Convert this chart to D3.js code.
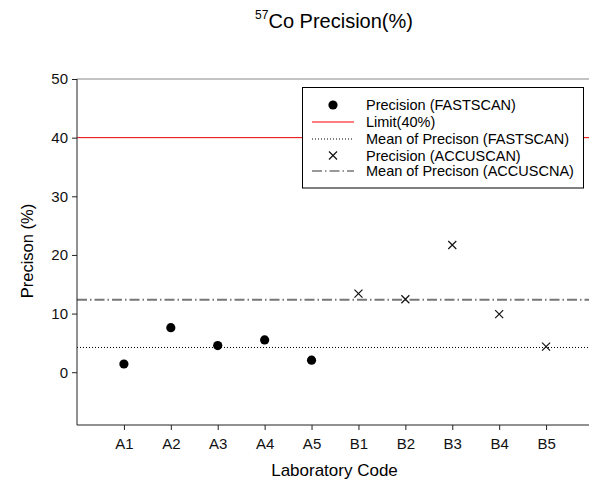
<!DOCTYPE html>
<html><head><meta charset="utf-8">
<script src="https://cdn.jsdelivr.net/npm/d3@7"></script>
<style>body{margin:0;background:#fff}svg{display:block}text{font-family:"Liberation Sans",Arial,sans-serif}</style>
</head><body>
<script>
const categories = ["A1","A2","A3","A4","A5","B1","B2","B3","B4","B5"];
const fastscan = [1.4, 7.6, 4.55, 5.5, 2.05];
const fastCats = ["A1","A2","A3","A4","A5"];
const accuscan = [13.4, 12.45, 21.7, 9.9, 4.37];
const accuCats = ["B1","B2","B3","B4","B5"];
const limit = 40;
const yTicks = [0,10,20,30,40,50];
const legendLabels = ["Precision (FASTSCAN)","Limit(40%)","Mean of Precison (FASTSCAN)","Precision (ACCUSCAN)","Mean of Precison (ACCUSCNA)"];

const W = 589, H = 486;
const svg = d3.select("body").append("svg").attr("width", W).attr("height", H);
const x = d3.scaleLinear().domain([0, 11]).range([77, 593]);
const y = d3.scaleLinear().domain([-9, 50]).range([425, 79]);
const xi = c => x(categories.indexOf(c) + 1);
const meanF = d3.mean(fastscan), meanA = d3.mean(accuscan);

// top frame line
svg.append("line").attr("x1", 77).attr("x2", W).attr("y1", y(50)).attr("y2", y(50)).attr("stroke", "#888").attr("stroke-width", 1);

// limit line
svg.append("line").attr("x1", 77).attr("x2", W).attr("y1", y(limit)).attr("y2", y(limit)).attr("stroke", "#e00").attr("stroke-width", 1);
// means
svg.append("line").attr("x1", 77).attr("x2", W).attr("y1", y(meanF)).attr("y2", y(meanF)).attr("stroke", "#000").attr("stroke-width", 1).attr("stroke-dasharray", "1,2");
svg.append("line").attr("x1", 77).attr("x2", W).attr("y1", y(meanA)).attr("y2", y(meanA)).attr("stroke", "#777").attr("stroke-width", 2).attr("stroke-dasharray", "10,3,1.5,3");

// axes
const yAxis = svg.append("g").attr("transform", "translate(77,0)").call(d3.axisLeft(y).tickValues(yTicks).tickSize(5).tickPadding(4));
const xAxis = svg.append("g").attr("transform", "translate(0,425)").call(d3.axisBottom(x).tickValues(d3.range(1, 11)).tickFormat(i => categories[i-1]).tickSize(5).tickPadding(8));
[yAxis, xAxis].forEach(g => {
  g.select(".domain").attr("stroke", "#222");
  g.selectAll(".tick line").attr("stroke", "#222");
  g.selectAll("text").attr("font-size", 15).attr("fill", "#111").attr("font-family", "Liberation Sans, Arial, sans-serif");
});
xAxis.select(".domain").attr("d", `M77,0H${W}`);
yAxis.select(".domain").attr("d", `M0,${y(50)}V425`);

// points
svg.selectAll("circle.f").data(fastscan).enter().append("circle").attr("class", "f")
  .attr("cx", (d, i) => xi(fastCats[i])).attr("cy", d => y(d)).attr("r", 4.6).attr("fill", "#000");
svg.selectAll("path.a").data(accuscan).enter().append("path").attr("class", "a")
  .attr("transform", (d, i) => `translate(${xi(accuCats[i])},${y(d)})`)
  .attr("d", "M-4,-4L4,4M-4,4L4,-4").attr("stroke", "#111").attr("stroke-width", 1.2).attr("fill", "none");

// legend
const lg = svg.append("g");
lg.append("rect").attr("x", 302.5).attr("y", 87.5).attr("width", 281).attr("height", 100.5).attr("fill", "#fff").attr("stroke", "#000").attr("stroke-width", 1);
const rowY = [105, 122, 139, 155.5, 171];
const sx = 333, lx1 = 312, lx2 = 354, tx = 366;
lg.append("circle").attr("cx", sx).attr("cy", rowY[0]).attr("r", 4.6).attr("fill", "#000");
lg.append("line").attr("x1", lx1).attr("x2", lx2).attr("y1", rowY[1]).attr("y2", rowY[1]).attr("stroke", "#f55").attr("stroke-width", 1.6);
lg.append("line").attr("x1", lx1).attr("x2", lx2).attr("y1", rowY[2]).attr("y2", rowY[2]).attr("stroke", "#000").attr("stroke-width", 1).attr("stroke-dasharray", "1,2");
lg.append("path").attr("transform", `translate(${sx},${rowY[3]})`).attr("d", "M-4,-4L4,4M-4,4L4,-4").attr("stroke", "#111").attr("stroke-width", 1.2);
lg.append("line").attr("x1", lx1).attr("x2", lx2).attr("y1", rowY[4]).attr("y2", rowY[4]).attr("stroke", "#333").attr("stroke-width", 1).attr("stroke-dasharray", "10,3,1.5,3");
lg.selectAll("text").data(legendLabels).enter().append("text")
  .attr("x", tx).attr("y", (d, i) => rowY[i] + 5).attr("font-size", 14.5).attr("fill", "#000").text(d => d);

// title
const t = svg.append("text").attr("x", 334).attr("y", 28).attr("text-anchor", "middle").attr("font-size", 20).attr("fill", "#000");
t.append("tspan").attr("font-size", 12).attr("dy", -9).text("57");
t.append("tspan").attr("dy", 9).text("Co Precision(%)");

// axis titles
svg.append("text").attr("x", 334.5).attr("y", 476).attr("text-anchor", "middle").attr("font-size", 17).attr("fill", "#000").text("Laboratory Code");
svg.append("text").attr("transform", `translate(33,251) rotate(-90)`).attr("text-anchor", "middle").attr("font-size", 16.5).attr("fill", "#000").text("Precison (%)");
</script>
</body></html>
